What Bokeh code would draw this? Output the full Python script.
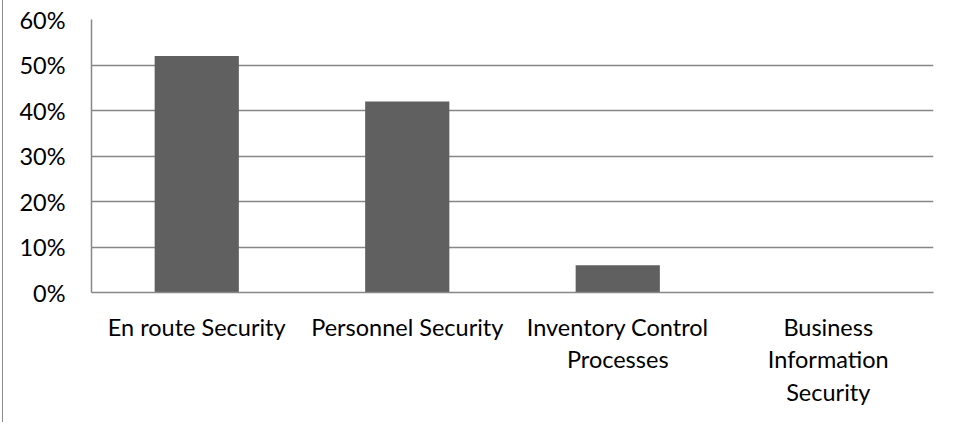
from bokeh.plotting import figure
from bokeh.models import FactorRange, Range1d, FixedTicker, NumeralTickFormatter
from bokeh.embed import file_html
from bokeh.resources import INLINE

categories = ["En route Security", "Personnel Security",
              "Inventory Control\nProcesses", "Business\nInformation\nSecurity"]
values = [0.52, 0.42, 0.06, 0.0]
y_ticks = [0, 0.1, 0.2, 0.3, 0.4, 0.5, 0.6]

FONT = "Lato"
GRID = "#878787"

p = figure(x_range=FactorRange(*categories), y_range=Range1d(0, 0.6),
           width=943, height=422, output_backend="svg", toolbar_location=None,
           min_border_left=88, min_border_right=13, min_border_top=19,
           min_border_bottom=130)
p.styles = {"margin-left": "2px", "border-left": "1px solid #8c8c8c"}
p.outline_line_color = None
p.background_fill_color = "white"
p.border_fill_color = "white"

p.vbar(x=categories, top=values, width=0.4, color="#606060", line_color=None)

p.xgrid.grid_line_color = None
p.ygrid.grid_line_color = GRID
p.ygrid.grid_line_width = 1.5
p.yaxis.ticker = FixedTicker(ticks=y_ticks)
p.yaxis.formatter = NumeralTickFormatter(format="0%")

for ax in (p.xaxis, p.yaxis):
    ax.axis_line_color = GRID
    ax.axis_line_width = 1.5
    ax.major_tick_line_color = None
    ax.minor_tick_line_color = None
    ax.major_tick_out = 0
    ax.major_tick_in = 0
    ax.major_label_text_font = FONT
    ax.major_label_text_font_size = "23.5px"
    ax.major_label_text_color = "#000000"

p.yaxis.major_label_standoff = 26
p.xaxis.major_label_standoff = 20
p.xaxis.major_label_text_line_height = 1.17

open("out.html", "w").write(file_html(p, INLINE))
